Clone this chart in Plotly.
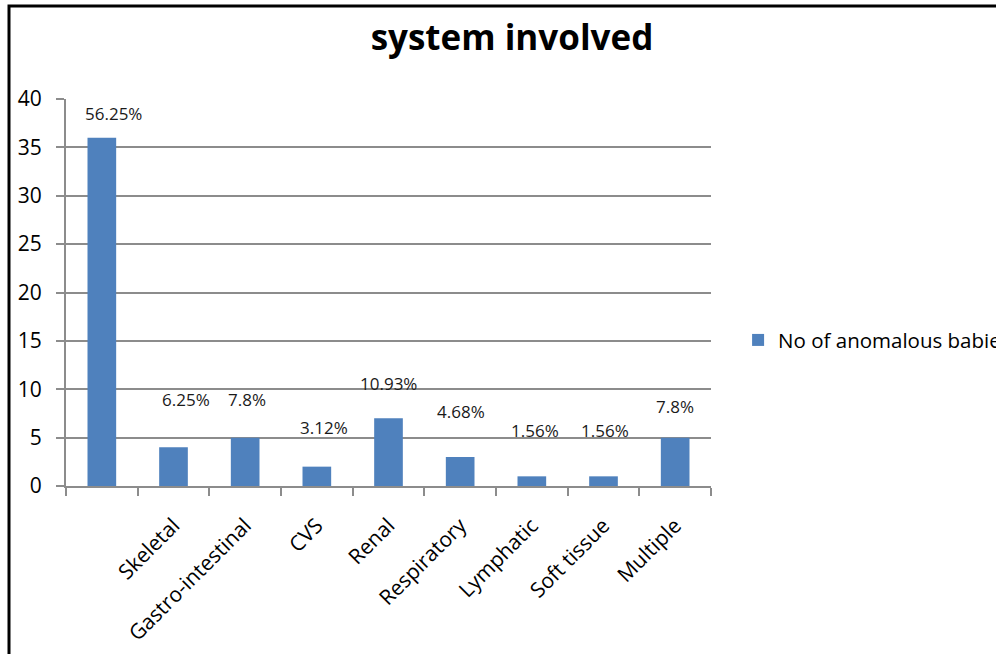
import plotly.graph_objects as go

categories = [" ", "Skeletal", "Gastro-intestinal", "CVS", "Renal", "Respiratory",
              "Lymphatic", "Soft tissue", "Multiple"]
values = [36, 4, 5, 2, 7, 3, 1, 1, 5]
pct_labels = ["56.25%", "6.25%", "7.8%", "3.12%", "10.93%", "4.68%", "1.56%", "1.56%", "7.8%"]
series_name = "No of anomalous babies"
title_text = "system involved"

# label placement (data units above zero / pixel shifts)
label_heights = [38.55, 8.9, 8.9, 6.0, 10.55, 7.75, 5.7, 5.7, 8.2]
label_xshifts = [12, 12, 2, 7, 0, 1, 3, 1, 0]

FONT = "Open Sans"
BLUE = "#4F81BD"
GRID = "#8C8C8C"

fig = go.Figure()
fig.add_trace(go.Bar(x=categories, y=values, name=series_name,
                     marker=dict(color=BLUE, line=dict(width=0)),
                     showlegend=True))

for c, h, t, dx in zip(categories, label_heights, pct_labels, label_xshifts):
    fig.add_annotation(x=c, y=h, text=t, showarrow=False, xshift=dx,
                       font=dict(family=FONT, size=17, color="#1a1a1a"),
                       xanchor="center", yanchor="middle")

fig.update_layout(
    width=996, height=654,
    margin=dict(l=66, r=285, t=99, b=168, autoexpand=False),
    paper_bgcolor="white", plot_bgcolor="white",
    bargap=0.6,
    title=dict(text=f"<b>{title_text}</b>", x=(512 - 66) / 645, xref="paper", xanchor="center",
               y=1 - 38 / 654, yref="container", yanchor="middle",
               font=dict(family=FONT, size=35, color="black")),
    legend=dict(x=1.042, y=0.377, xanchor="left", yanchor="middle",
                font=dict(family=FONT, size=20.5, color="black"),
                bgcolor="rgba(0,0,0,0)"),
    showlegend=True,
    xaxis=dict(type="category", tickangle=-45, tickson="boundaries",
               ticks="outside", ticklen=8, tickcolor=GRID, tickwidth=2,
               showline=True, linecolor=GRID, linewidth=2,
               showgrid=False, automargin=False,
               ticklabelstandoff=17,
               tickfont=dict(family=FONT, size=21, color="black")),
    yaxis=dict(range=[0, 40], dtick=5, ticks="outside", ticklen=8,
               tickcolor=GRID, tickwidth=2,
               showline=True, linecolor=GRID, linewidth=2,
               showgrid=True, gridcolor=GRID, gridwidth=2,
               zeroline=False, automargin=False,
               ticklabelstandoff=10,
               tickfont=dict(family=FONT, size=21, color="black")),
)

# outer frame (black border, running off the right and bottom of the image)
fig.add_shape(type="rect", xref="paper", yref="paper",
              x0=(9 - 66) / 645, x1=2.0, y0=-1.0, y1=(486 - 6) / 387,
              line=dict(color="black", width=3), fillcolor="rgba(0,0,0,0)",
              layer="below")

fig.write_html("out.html")
